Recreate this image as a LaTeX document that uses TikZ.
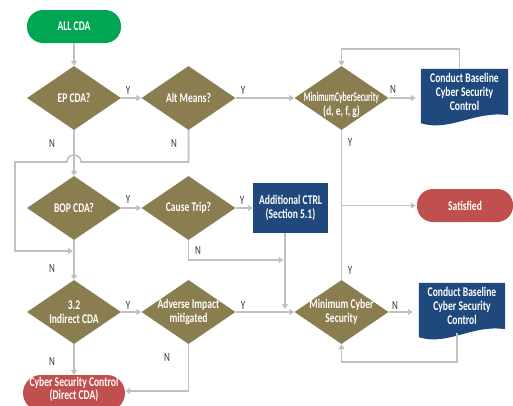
\documentclass[tikz,border=0pt]{standalone}
\usepackage{fontspec}
\setmainfont{Carlito}[FakeStretch=0.72]
\usetikzlibrary{shapes.geometric,arrows.meta,backgrounds}
\definecolor{olivec}{RGB}{138,125,80}
\definecolor{greenc}{RGB}{0,166,81}
\definecolor{bluec}{RGB}{31,73,125}
\definecolor{redc}{RGB}{192,80,77}
\definecolor{linec}{RGB}{192,192,192}
\definecolor{ync}{RGB}{55,55,55}
\tikzset{
  dia/.style={diamond, fill=olivec, minimum width=94pt, minimum height=64pt, inner sep=0pt, aspect=1.47},
  dtext/.style={text=white, font=\bfseries\fontsize{13.3}{14}\selectfont, align=center, inner sep=0pt},
  pill/.style={rectangle, rounded corners=16pt, minimum height=33pt, text=white, font=\bfseries\fontsize{13.3}{12.5}\selectfont, align=center, inner sep=1pt},
  bbox/.style={rectangle, fill=bluec, text=white, font=\bfseries\fontsize{13.3}{14}\selectfont, align=center, inner sep=2pt},
  docbox/.style={rectangle, text=white, font=\bfseries\fontsize{13.3}{14}\selectfont, align=center, inner sep=2pt, minimum height=46pt},
  conn/.style={draw=linec, line width=1.6pt, -{Triangle[length=5pt,width=6pt]}},
  plainconn/.style={draw=linec, line width=1.6pt},
  yn/.style={text=ync, font=\fontsize{12.5}{12}\selectfont, inner sep=0pt}
}
\begin{document}
\begin{tikzpicture}[x=1pt,y=-1pt]
\clip (0,0) rectangle (513,405);
% nodes
\node[pill, fill=greenc, minimum width=94pt] (all) at (74,26.5) {ALL CDA};
\node[dia, label={[dtext]center:EP CDA?}] (ep) at (74,98) {};
\node[dia, label={[dtext]center:Alt Means?}] (alt) at (188.5,98) {};
\node[dia, label={[dtext,yshift=-7pt]center:{\scalebox{0.8}[1]{MinimumCyberSecurity}\\(d, e, f, g)}}] (minA) at (341.5,98) {};
\node[docbox, minimum width=87pt] (cbA) at (464.5,92) {Conduct Baseline\\Cyber Security\\Control};
\node[pill, fill=redc, minimum width=96pt] (sat) at (465,205.5) {Satisfied};
\node[dia, label={[dtext]center:BOP CDA?}] (bop) at (74,208) {};
\node[dia, label={[dtext]center:Cause Trip?}] (cause) at (188.5,208) {};
\node[bbox, minimum width=75pt, minimum height=50pt] (addl) at (290.5,208) {Additional CTRL\\(Section 5.1)};
\node[dia, label={[dtext]center:{3.2\\Indirect CDA}}] (ind) at (74,312) {};
\node[dia, label={[dtext]center:{Adverse Impact\\mitigated}}] (adv) at (188.5,312) {};
\node[dia, label={[dtext]center:{Minimum Cyber\\Security}}] (minB) at (341.5,312) {};
\node[docbox, minimum width=86pt] (cbB) at (462,306) {Conduct Baseline\\Cyber Security\\Control};
\node[pill, fill=redc, rounded corners=18pt, minimum width=102pt, minimum height=36pt, text depth=9pt, font=\bfseries\fontsize{13.3}{11.5}\selectfont] (csc) at (74,393) {Cyber Security Control\\(Direct CDA)};
% document shapes
\begin{scope}[on background layer]
\fill[white] (0,0) rectangle (513,405);
\fill[bluec] (cbA.north west) -- (cbA.north east) -- (cbA.south east)
  .. controls ([xshift=-33pt,yshift=5pt]cbA.south east) and ([xshift=29pt,yshift=-17pt]cbA.south west) .. ([yshift=-8pt]cbA.south west) -- cycle;
\fill[bluec] (cbB.north west) -- (cbB.north east) -- (cbB.south east)
  .. controls ([xshift=-33pt,yshift=5pt]cbB.south east) and ([xshift=29pt,yshift=-17pt]cbB.south west) .. ([yshift=-8pt]cbB.south west) -- cycle;
\end{scope}
% coordinates
\coordinate (hop) at (74,162);
\coordinate (j2) at (74,251);
\coordinate (j3) at (285,260);
% connectors
\draw[conn] (all) -- (ep);
\draw[conn] (ep) -- (alt);
\draw[conn] (alt) -- (minA);
\draw[conn, shorten >=5pt] (minA.east) -- (minA.east -| cbA.west);
\draw[conn] ([xshift=-5pt]cbA.north) -- ++(0,20pt) -| (minA.north);
\draw[plainconn] (minA.south) -- (minB.north);
\draw[conn, shorten >=1pt] (minA.south |- sat.west) -- (sat.west);
\draw[conn] (ep) -- (bop);
\draw[conn, shorten >=1pt] (alt.south) |- ([xshift=7pt]hop) .. controls +(0,9.3pt) and +(0,9.3pt) .. ([xshift=-7pt]hop) -- ++(-52pt,0) |- (j2);
\draw[conn] (bop) -- (cause);
\draw[conn] (cause) -- (addl);
\draw[conn, shorten >=1.5pt] (cause.south) |- (j3);
\draw[conn, shorten >=3pt] ([xshift=-5.5pt]addl.south) -- ([xshift=-5.5pt]addl.south |- minB.west);
\draw[conn] (bop) -- (ind);
\draw[conn] (ind) -- (adv);
\draw[conn] (adv) -- (minB);
\draw[conn, shorten >=6pt] (minB.east) -- (minB.east -| cbB.west);
\draw[conn] ([xshift=-5pt,yshift=-4pt]cbB.south) -- ++(0,-29pt) -| (minB.south);
\draw[conn] (ind) -- (csc);
\draw[conn] (adv.south) |- ([yshift=2pt]csc.east);
% labels
\node[yn] (l1) at (128,90) {Y};
\node[yn] (l2) at (243,90) {Y};
\node[yn] (l3) at (393,89) {N};
\node[yn] (l4) at (52,143) {N};
\node[yn] (l5) at (174,143) {N};
\node[yn] (l6) at (350,142) {Y};
\node[yn] (l7) at (128,199) {Y};
\node[yn] (l8) at (242,200) {Y};
\node[yn] (l9) at (198,250) {N};
\node[yn] (l10) at (52,268) {N};
\node[yn] (l11) at (128,305) {Y};
\node[yn] (l12) at (243,305) {Y};
\node[yn] (l13) at (350,270) {Y};
\node[yn] (l14) at (395,305) {N};
\node[yn] (l15) at (52,361) {N};
\node[yn] (l16) at (167,357) {N};
\end{tikzpicture}
\end{document}
